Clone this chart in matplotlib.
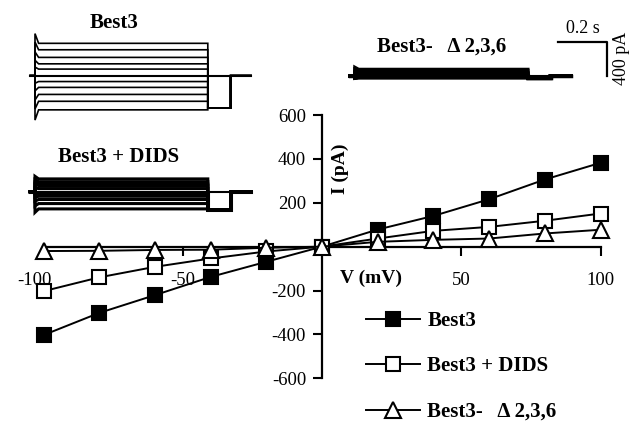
import matplotlib
matplotlib.use("Agg")
import matplotlib.pyplot as plt
import matplotlib.transforms as mtransforms

plt.rcParams["font.family"] = ["Liberation Serif", "DejaVu Serif"]
plt.rcParams["axes.unicode_minus"] = False

# I-V data (mV, pA)
volts = [-100, -80, -60, -40, -20, 0, 20, 40, 60, 80, 100]
best3 = [-403, -302, -221, -138, -69, 0, 78, 140, 216, 306, 382]
best3_dids = [-203, -140, -92, -54, -22, 0, 37, 72, 90, 118, 151]
best3_delta = [-20, -19, -15, -14, -5, 0, 22, 31, 37, 60, 77]

# current traces: step 0.72 s, tail current (pA) after the step
step_end = 0.72
tail_end = 0.815
trace_end = 0.9
tail_best3 = -380
tail_dids = -216
tail_delta = -27

W, H = 638, 421
fig = plt.figure(figsize=(W / 100, H / 100), dpi=100)

# main I-V axes, spines crossing at the origin
ax = fig.add_axes([43.5 / W, 1 - 378.3 / H, 557 / W, 263.3 / H])
ax.patch.set_visible(False)
ax.plot(volts, best3, "-s", color="black", mfc="black", mec="black",
        ms=10.5, lw=1.4, mew=1.5, clip_on=False, label="Best3", zorder=4)
ax.plot(volts, best3_dids, "-s", color="black", mfc="white", mec="black",
        ms=10.5, lw=1.4, mew=1.5, clip_on=False, label="Best3 + DIDS", zorder=5)
ax.plot(volts, best3_delta, "-^", color="black", mfc="white", mec="black",
        ms=11, lw=1.4, mew=1.5, clip_on=False, label="Best3-   \u0394 2,3,6", zorder=6)

ax.set_xlim(-100, 100)
ax.set_ylim(-600, 600)
ax.spines["left"].set_position(("data", 0))
ax.spines["bottom"].set_position(("data", 0))
ax.spines["right"].set_visible(False)
ax.spines["top"].set_visible(False)
for s in ("left", "bottom"):
    ax.spines[s].set_linewidth(1.6)
ax.set_xticks([-100, -50, 50, 100])
ax.set_yticks([-600, -400, -200, 200, 400, 600])
ax.tick_params(axis="x", direction="out", length=6.5, width=1.5, pad=12, labelsize=13.5)
ax.tick_params(axis="y", direction="out", length=6.5, width=1.5, pad=5, labelsize=13.5)
# the -100 label sits a bit left of its tick in the original
lbl = ax.get_xticklabels()[0]
lbl.set_transform(lbl.get_transform() +
                  mtransforms.ScaledTranslation(-0.09, 0, fig.dpi_scale_trans))

ax.text(6.5, 353, "I (pA)", rotation=90, ha="center", va="center",
        fontsize=14, fontweight="bold")
ax.text(17.6, -144, "V (mV)", ha="center", va="center",
        fontsize=14, fontweight="bold")

leg = ax.legend(loc="upper left", bbox_to_anchor=(366 / W, 1 - 311 / H),
                bbox_transform=fig.transFigure, frameon=False, borderpad=0,
                borderaxespad=0, handlelength=2.6, handletextpad=0.35,
                labelspacing=1.22, prop={"weight": "bold", "size": 15})

# current trace insets: 240 px per second, 11.8 pA per px
PX_PER_S = 240
PA_PER_PX = 11.8


def trace_ax(x0, y0, t_lo=-0.06, t_hi=1.25, i_lo=-700, i_hi=700):
    left = x0 + t_lo * PX_PER_S
    width = (t_hi - t_lo) * PX_PER_S
    bottom = y0 - i_lo / PA_PER_PX
    height = (i_hi - i_lo) / PA_PER_PX
    a = fig.add_axes([left / W, 1 - bottom / H, width / W, height / H])
    a.set_xlim(t_lo, t_hi)
    a.set_ylim(i_lo, i_hi)
    a.axis("off")
    return a


def draw_traces(a, levels, tail, spike=1.0, lw=1.2):
    for lv in levels:
        t = [-0.02, 0, 0, 0.015, step_end, step_end, tail_end, tail_end, trace_end]
        i = [0, 0, lv * spike, lv, lv, tail, tail, 0, 0]
        a.plot(t, i, color="black", lw=lw, solid_joinstyle="miter")
    a.plot([-0.02, trace_end], [0, 0], color="black", lw=1.5)


a1 = trace_ax(35, 75.7)
draw_traces(a1, best3, tail_best3, spike=1.3)
a1.text(0.33, 620, "Best3", ha="center", va="center", fontsize=15, fontweight="bold")

a2 = trace_ax(35, 191.7)
draw_traces(a2, best3_dids, tail_dids, spike=1.2, lw=2.2)
a2.text(0.35, 412, "Best3 + DIDS", ha="center", va="center", fontsize=15, fontweight="bold")

a3 = trace_ax(355, 76)
draw_traces(a3, best3_delta, tail_delta, spike=1.3, lw=2.5)
a3.text(0.36, 345, "Best3-   \u0394 2,3,6", ha="center", va="center",
        fontsize=15, fontweight="bold")
# scale bar: 0.2 s, 400 pA
a3.plot([0.847, 1.05, 1.05], [400, 400, 0], color="black", lw=1.6)
a3.text(0.95, 560, "0.2 s", ha="center", va="center", fontsize=13)
a3.text(1.11, 210, "400 pA", ha="center", va="center", rotation=90, fontsize=13)

fig.savefig("out.png", dpi=100)
